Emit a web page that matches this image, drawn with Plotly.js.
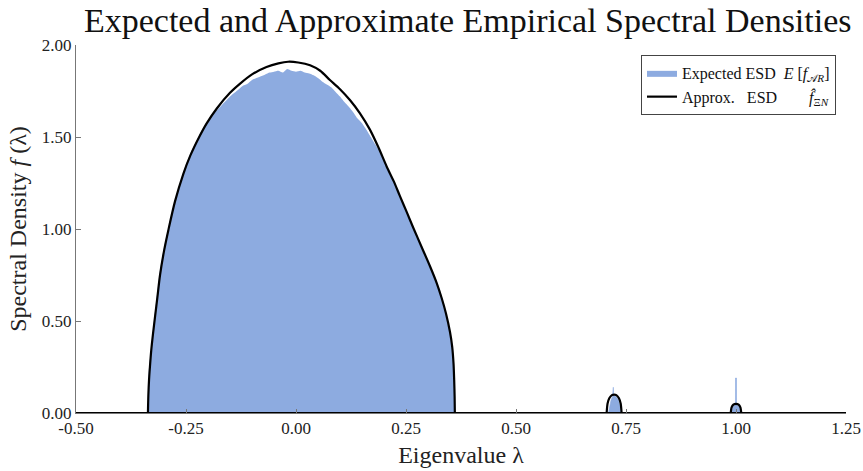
<!DOCTYPE html>
<html>
<head>
<meta charset="utf-8">
<script src="https://cdn.plot.ly/plotly-3.0.1.min.js"></script>
<style>html,body{margin:0;padding:0;background:#fff}#chart{width:863px;height:471px}</style>
</head>
<body>
<div id="chart"></div>
<script>
// Expected ESD (histogram outline) – main bulk
const histMainX = [-0.3365,-0.336,-0.334,-0.330,-0.326,-0.320,-0.315,-0.310,-0.300,-0.290,-0.280,-0.270,-0.260,-0.250,-0.240,-0.230,-0.220,-0.210,-0.200,-0.190,-0.180,-0.170,-0.160,-0.150,-0.140,-0.130,-0.120,-0.110,-0.100,-0.090,-0.080,-0.070,-0.060,-0.050,-0.040,-0.030,-0.020,-0.010,0.000,0.010,0.020,0.030,0.040,0.050,0.060,0.070,0.080,0.090,0.100,0.110,0.120,0.130,0.140,0.150,0.160,0.170,0.180,0.190,0.200,0.210,0.220,0.230,0.240,0.250,0.260,0.270,0.280,0.290,0.300,0.310,0.320,0.330,0.340,0.350,0.355,0.358,0.360,0.3615];
const histMainY = [0,0.15,0.25,0.33,0.43,0.56,0.66,0.76,0.90,1.01,1.11,1.20,1.28,1.35,1.41,1.46,1.51,1.55,1.58,1.62,1.645,1.67,1.695,1.72,1.74,1.76,1.78,1.79,1.81,1.82,1.83,1.84,1.85,1.855,1.86,1.85,1.87,1.86,1.855,1.86,1.85,1.845,1.835,1.82,1.80,1.785,1.77,1.745,1.72,1.69,1.665,1.635,1.60,1.575,1.54,1.50,1.46,1.42,1.37,1.32,1.27,1.22,1.16,1.10,1.05,0.99,0.94,0.885,0.83,0.775,0.715,0.645,0.56,0.45,0.37,0.28,0.16,0];
// Expected ESD – outlier bins near 0.72 and 1.0
const histOutX = [0.710,0.712,0.716,0.7195,0.7198,0.7212,0.7215,0.723,0.727,0.733,0.737,0.739,
  0.990,0.992,0.9988,0.9989,1.0011,1.0012,1.008,1.010];
const histOutY = [0,0.03,0.07,0.09,0.14,0.14,0.10,0.095,0.09,0.07,0.03,0,
  0,0.03,0.045,0.19,0.19,0.045,0.03,0];

// Approximate ESD (curve) – main lobe
const curveMainX = [-0.3365,-0.3355,-0.334,-0.332,-0.329,-0.325,-0.320,-0.315,-0.309,-0.300,-0.290,-0.275,-0.256,-0.240,-0.220,-0.203,-0.180,-0.150,-0.127,-0.100,-0.067,-0.040,-0.018,0.005,0.032,0.055,0.077,0.100,0.123,0.145,0.168,0.188,0.206,0.222,0.236,0.252,0.267,0.285,0.305,0.320,0.331,0.341,0.350,0.355,0.358,0.3595,0.3605,0.361];
const curveMainY = [0,0.10,0.18,0.25,0.34,0.43,0.53,0.63,0.75,0.88,0.995,1.15,1.30,1.40,1.50,1.574,1.655,1.74,1.79,1.84,1.88,1.90,1.909,1.905,1.89,1.86,1.81,1.76,1.70,1.63,1.54,1.44,1.34,1.26,1.18,1.09,1.004,0.905,0.795,0.705,0.625,0.54,0.44,0.36,0.27,0.18,0.09,0];
// Approximate ESD – small bumps
const bump1X = [0.706,0.708,0.712,0.718,0.723,0.728,0.734,0.738,0.740];
const bump1Y = [0,0.05,0.08,0.097,0.10,0.097,0.08,0.05,0];
const bump2X = [0.988,0.990,0.994,1.000,1.006,1.010,1.012];
const bump2Y = [0,0.03,0.045,0.05,0.045,0.03,0];
// zero baseline of the approximate ESD
const baseX = [-0.5,1.25];
const baseY = [0,0];

const xTicks = [-0.5,-0.25,0,0.25,0.5,0.75,1.0,1.25];
const xTickText = ['-0.50','-0.25','0.00','0.25','0.50','0.75','1.00','1.25'];
const yTicks = [0,0.5,1.0,1.5,2.0];
const yTickText = ['0.00','0.50','1.00','1.50','2.00'];

const serif = 'Liberation Serif, Times New Roman, serif';
const blue = '#8DABE0';

const traces = [
  {x: histMainX, y: histMainY, type: 'scatter', mode: 'lines', fill: 'tozeroy',
   fillcolor: blue, line: {width: 0, color: blue, shape: 'spline', smoothing: 0.5},
   legendgroup: 'h',
   name: 'Expected ESD&nbsp;&nbsp;<i>E</i> [<i>f</i><sub>𝒜<i>R</i></sub>]'},
  {x: histOutX, y: histOutY, type: 'scatter', mode: 'lines', fill: 'tozeroy',
   fillcolor: blue, line: {width: 0.6, color: blue}, legendgroup: 'h', showlegend: false},
  {x: curveMainX, y: curveMainY, type: 'scatter', mode: 'lines',
   line: {color: '#000', width: 2.2, shape: 'spline', smoothing: 0.8}, legendgroup: 'c',
   name: 'Approx.&nbsp;&nbsp;&nbsp;ESD&nbsp;&nbsp;&nbsp;&nbsp;&nbsp;&nbsp;&nbsp;&nbsp;<i>f̂</i><sub>Ξ<i>N</i></sub>'},
  {x: bump1X, y: bump1Y, type: 'scatter', mode: 'lines', legendgroup: 'c', showlegend: false,
   line: {color: '#000', width: 2.2, shape: 'spline', smoothing: 0.6}},
  {x: bump2X, y: bump2Y, type: 'scatter', mode: 'lines', legendgroup: 'c', showlegend: false,
   line: {color: '#000', width: 2.2, shape: 'spline', smoothing: 0.6}},
  {x: baseX, y: baseY, type: 'scatter', mode: 'lines', legendgroup: 'c', showlegend: false,
   line: {color: '#000', width: 2.2}}
];

const layout = {
  width: 863, height: 471,
  margin: {l: 76, r: 17, t: 45, b: 58},
  paper_bgcolor: '#fff', plot_bgcolor: '#fff',
  font: {family: serif, color: '#222', size: 17},
  title: {text: 'Expected and Approximate Empirical Spectral Densities',
          font: {family: serif, size: 34, color: '#111'},
          x: 0.542, xanchor: 'center', y: 0.958, yanchor: 'middle', xref: 'container', yref: 'container'},
  showlegend: true,
  legend: {x: 0.987, xanchor: 'right', y: 0.973, yanchor: 'top',
           bgcolor: '#fff', bordercolor: '#444', borderwidth: 1,
           font: {family: serif, size: 16, color: '#111'}, tracegroupgap: 0, itemwidth: 30},
  xaxis: {range: [-0.5, 1.25], tickvals: xTicks, ticktext: xTickText,
          showgrid: false, zeroline: false, showline: true, linecolor: '#777', linewidth: 1,
          ticks: 'inside', ticklen: 4, tickcolor: '#777',
          tickfont: {family: serif, size: 17, color: '#222'},
          title: {text: 'Eigenvalue λ', font: {family: serif, size: 24, color: '#222'}, standoff: 8}},
  yaxis: {range: [0, 2], tickvals: yTicks, ticktext: yTickText,
          showgrid: false, zeroline: false, showline: true, linecolor: '#777', linewidth: 1,
          ticks: 'inside', ticklen: 5, tickcolor: '#777',
          tickfont: {family: serif, size: 17, color: '#222'},
          title: {text: 'Spectral Density <i>f</i> (λ)', font: {family: serif, size: 24, color: '#222'}, standoff: 8}}
};

Plotly.newPlot('chart', traces, layout, {displayModeBar: false, staticPlot: true});
</script>
</body>
</html>
